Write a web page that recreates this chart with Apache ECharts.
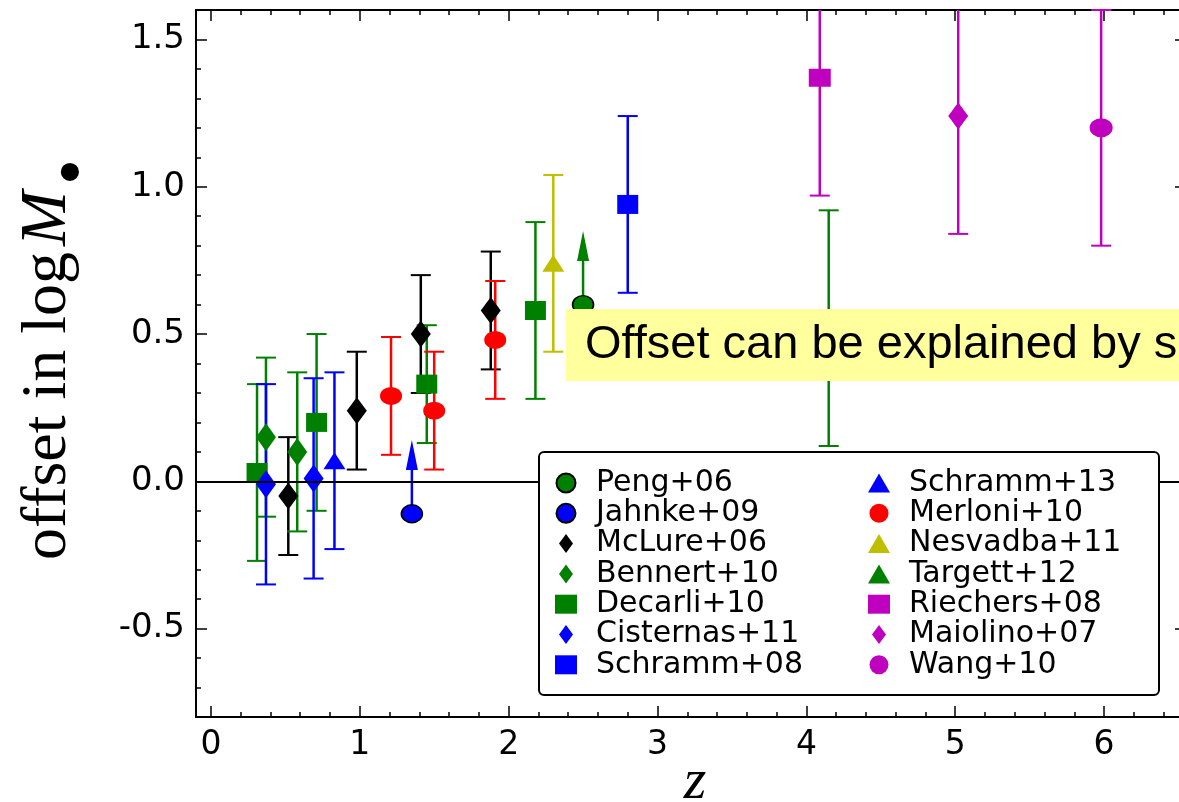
<!DOCTYPE html>
<html>
<head>
<meta charset="utf-8">
<script src="https://cdn.jsdelivr.net/npm/echarts@6/dist/echarts.min.js"></script>
<style>
html, body { margin: 0; padding: 0; background: #fff; }
#main { width: 1179px; height: 802px; }
</style>
</head>
<body>
<div id="main"></div>
<script>
// [z, offset, error]; Peng+06 and Jahnke+09 are lower limits (no error)
var peng06 = [[2.50, 0.60]];
var jahnke09 = [[1.35, -0.11]];
var mclure06 = [[0.52, -0.05, 0.20], [0.98, 0.24, 0.20], [1.41, 0.50, 0.20], [1.88, 0.58, 0.20]];
var bennert10 = [[0.37, 0.15, 0.27], [0.58, 0.10, 0.27]];
var decarli10 = [[0.31, 0.03, 0.30], [0.71, 0.20, 0.30], [1.45, 0.33, 0.20], [2.18, 0.58, 0.30]];
var cisternas11 = [[0.37, -0.01, 0.34], [0.69, 0.01, 0.34]];
var schramm08 = [[2.80, 0.94, 0.30]];
var schramm13 = [[0.83, 0.07, 0.30]];
var merloni10 = [[1.21, 0.29, 0.20], [1.50, 0.24, 0.20], [1.91, 0.48, 0.20]];
var nesvadba11 = [[2.30, 0.74, 0.30]];
var targett12 = [[4.15, 0.52, 0.40]];
var riechers08 = [[4.09, 1.37, 0.40]];
var maiolino07 = [[5.02, 1.24, 0.40]];
var wang10 = [[5.98, 1.20, 0.40]];
var limitArrow = 0.25;

var leftNames = ['Peng+06', 'Jahnke+09', 'McLure+06', 'Bennert+10', 'Decarli+10', 'Cisternas+11', 'Schramm+08'];
var rightNames = ['Schramm+13', 'Merloni+10', 'Nesvadba+11', 'Targett+12', 'Riechers+08', 'Maiolino+07', 'Wang+10'];

var thinDiamond = 'path://M7,0L14,9.5L7,19L0,9.5Z';

var sets = [
    { name: 'Peng+06', data: peng06, color: '#008000', symbol: 'circle', size: [21, 18], edge: true, limit: true },
    { name: 'Jahnke+09', data: jahnke09, color: '#0000ff', symbol: 'circle', size: [21, 18], edge: true, limit: true },
    { name: 'McLure+06', data: mclure06, color: '#000000', symbol: 'diamond', size: [20, 27] },
    { name: 'Bennert+10', data: bennert10, color: '#008000', symbol: 'diamond', size: [20, 28] },
    { name: 'Decarli+10', data: decarli10, color: '#008000', symbol: 'rect', size: [21, 19] },
    { name: 'Cisternas+11', data: cisternas11, color: '#0000ff', symbol: 'diamond', size: [20, 28] },
    { name: 'Schramm+08', data: schramm08, color: '#0000ff', symbol: 'rect', size: [21, 19] },
    { name: 'Schramm+13', data: schramm13, color: '#0000ff', symbol: 'triangle', size: [22, 17] },
    { name: 'Merloni+10', data: merloni10, color: '#ff0000', symbol: 'circle', size: [22, 18] },
    { name: 'Nesvadba+11', data: nesvadba11, color: '#bfbf00', symbol: 'triangle', size: [22, 17] },
    { name: 'Targett+12', data: targett12, color: '#008000', symbol: 'triangle', size: [22, 17] },
    { name: 'Riechers+08', data: riechers08, color: '#bf00bf', symbol: 'rect', size: [22, 18] },
    { name: 'Maiolino+07', data: maiolino07, color: '#bf00bf', symbol: 'diamond', size: [20, 27] },
    { name: 'Wang+10', data: wang10, color: '#bf00bf', symbol: 'circle', size: [23, 19] }
];

function legendItems(names) {
    return names.map(function (n) {
        var s = sets.filter(function (t) { return t.name === n; })[0];
        return s.symbol === 'diamond' ? { name: n, icon: thinDiamond } : { name: n };
    });
}

function errorBars(limit) {
    return function (params, api) {
        var cs = params.coordSys;
        var color = api.visual('color');
        var z = api.value(0), y = api.value(1);
        var p = api.coord([z, y]);
        var x = p[0];
        var kids = [];
        if (limit) {
            var tip = api.coord([z, y + limitArrow])[1];
            kids.push({ type: 'line', shape: { x1: x, y1: p[1], x2: x, y2: tip + 20 },
                style: { stroke: color, lineWidth: 2.5 } });
            kids.push({ type: 'polygon', shape: { points: [[x, tip], [x - 6, tip + 30], [x + 6, tip + 30]] },
                style: { fill: color } });
        } else {
            var e = api.value(2);
            var hi = api.coord([z, y + e])[1];
            var lo = api.coord([z, y - e])[1];
            var top = cs.y, bottom = cs.y + cs.height;
            kids.push({ type: 'line', shape: { x1: x, y1: Math.max(hi, top), x2: x, y2: Math.min(lo, bottom) },
                style: { stroke: color, lineWidth: 2.5 } });
            if (hi >= top) {
                kids.push({ type: 'line', shape: { x1: x - 10, y1: hi, x2: x + 10, y2: hi }, style: { stroke: color, lineWidth: 2 } });
            }
            if (lo <= bottom) {
                kids.push({ type: 'line', shape: { x1: x - 10, y1: lo, x2: x + 10, y2: lo }, style: { stroke: color, lineWidth: 2 } });
            }
        }
        return { type: 'group', children: kids };
    };
}

var series = [];
sets.forEach(function (s) {
    series.push({
        name: s.name,
        type: 'scatter',
        data: s.data,
        symbol: s.symbol,
        symbolSize: s.size,
        z: 3,
        itemStyle: { color: s.color, opacity: 1, borderColor: s.edge ? '#000' : s.color, borderWidth: s.edge ? 1.5 : 0 }
    });
});
sets.forEach(function (s, i) {
    var ser = {
        name: s.name,
        type: 'custom',
        data: s.data,
        renderItem: errorBars(!!s.limit),
        itemStyle: { color: s.color },
        z: 2,
        silent: true
    };
    if (i === 0) {
        ser.markLine = {
            silent: true,
            symbol: ['none', 'none'],
            label: { show: false },
            lineStyle: { color: '#000', width: 2.2, type: 'solid' },
            data: [{ yAxis: 0 }]
        };
    }
    series.push(ser);
});

var tickStyle = { color: '#000', width: 1.5 };
function xAx(pos) {
    return {
        type: 'value', min: -0.1, max: 6.55, position: pos,
        axisLine: { show: true, onZero: false, lineStyle: { color: '#000', width: 2 } },
        axisTick: { show: true, inside: true, length: 11, lineStyle: tickStyle },
        minorTick: { show: true, splitNumber: 5, length: 5, lineStyle: tickStyle },
        splitLine: { show: false },
        axisLabel: { show: pos === 'bottom', fontFamily: 'DejaVu Sans', fontSize: 33, color: '#000', margin: 12,
            showMinLabel: false, showMaxLabel: false }
    };
}
function yAx(pos) {
    return {
        type: 'value', min: -0.8, max: 1.6, position: pos,
        axisLine: { show: true, onZero: false, lineStyle: { color: '#000', width: 2 } },
        axisTick: { show: true, inside: true, length: 11, lineStyle: tickStyle },
        minorTick: { show: true, splitNumber: 5, length: 5, lineStyle: tickStyle },
        splitLine: { show: false },
        axisLabel: { show: pos === 'left', fontFamily: 'DejaVu Sans', fontSize: 34, color: '#000', margin: 11,
            showMinLabel: false, showMaxLabel: false,
            formatter: function (v) { return v.toFixed(1); } }
    };
}

var xBottom = xAx('bottom');
xBottom.name = 'z';
xBottom.nameLocation = 'middle';
xBottom.nameGap = 37;
xBottom.nameMoveOverlap = false;
xBottom.nameTextStyle = { fontFamily: 'Liberation Serif', fontStyle: 'italic', fontSize: 58, color: '#000', padding: [0, 0, 0, 8] };

var legendText = { fontFamily: 'DejaVu Sans', fontSize: 30, color: '#000', padding: [0, 0, 0, 14] };

var myChart = echarts.init(document.getElementById('main'));
var option = {
    animation: false,
    grid: { left: 196, right: -7, top: 10, bottom: 85, outerBoundsMode: 'none' },
    xAxis: [xBottom, xAx('top')],
    yAxis: [yAx('left'), yAx('right')],
    legend: [
        { data: legendItems(leftNames), orient: 'vertical', left: 555, top: 468, itemWidth: 22, itemHeight: 19, itemGap: 0.3,
          padding: 0, textStyle: legendText, z: 20 },
        { data: legendItems(rightNames), orient: 'vertical', left: 868, top: 468, itemWidth: 22, itemHeight: 19, itemGap: 0.3,
          padding: 0, textStyle: legendText, z: 20 }
    ],
    graphic: [
        { type: 'rect', z: 15, shape: { x: 539, y: 452, width: 620, height: 243, r: 5 },
          style: { fill: '#fff', stroke: '#000', lineWidth: 2 } },
        { type: 'rect', z: 10, shape: { x: 566, y: 309, width: 700, height: 72 },
          style: { fill: '#ffff9e' } },
        { type: 'text', z: 11, x: 585, y: 345,
          style: { text: 'Offset can be explained by selection effects', fontFamily: 'Liberation Sans', fontSize: 47,
                   fill: '#000', align: 'left', verticalAlign: 'middle' } },
        { type: 'text', x: 48, y: 560, rotation: Math.PI / 2,
          style: { text: '{a|offset in log}{m|M}', fill: '#000', align: 'left', verticalAlign: 'middle',
                   rich: {
                       a: { fontFamily: 'Liberation Serif', fontSize: 64, color: '#000' },
                       m: { fontFamily: 'Liberation Serif', fontStyle: 'italic', fontSize: 66, color: '#000', padding: [0, 0, 0, 6] }
                   } } },
        { type: 'text', x: 75, y: 172, rotation: Math.PI / 2,
          style: { text: '\u2022', fontFamily: 'Liberation Serif', fontSize: 76, fill: '#000',
                   align: 'center', verticalAlign: 'middle' } }
    ],
    series: series
};
myChart.setOption(option);
</script>
</body>
</html>
